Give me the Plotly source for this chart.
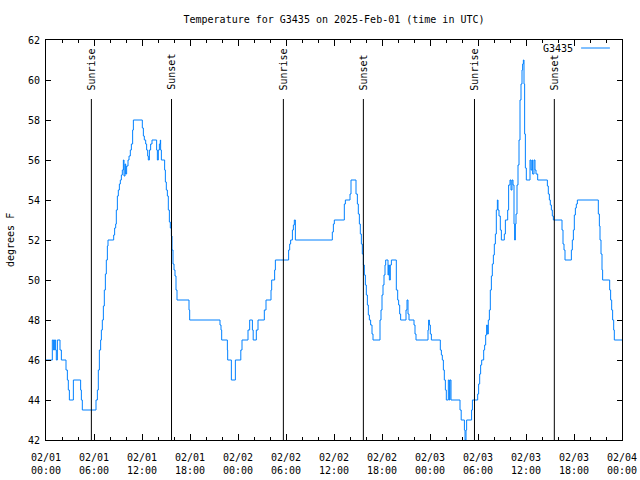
import pandas as pd
import plotly.graph_objects as go

# ---------------- data ----------------
start = "2025-02-01 00:00"
station = "G3435"
title_text = "Temperature for G3435 on 2025-Feb-01 (time in UTC)"
y_label = "degrees F"

# hours since start at which the reading changes, and the new reading (deg F)
hours = [
    0.0, 0.79, 0.95, 1.05, 1.2, 1.29, 1.42, 1.75, 1.92, 2.5, 2.67, 2.79, 2.92, 3.42,
    4.33, 4.42, 4.54,
    6.25, 6.42, 6.54, 6.67, 6.83, 6.92, 7.04, 7.17, 7.29, 7.42, 7.54, 7.67, 7.75,
    8.46, 8.58, 8.71, 8.79, 8.92, 9.04, 9.17, 9.29, 9.42, 9.54, 9.67, 9.75, 9.88,
    9.96, 10.08, 10.25, 10.38, 10.54, 10.67, 10.83, 10.92,
    12.04, 12.17, 12.29, 12.46, 12.58, 12.71, 12.79, 12.92, 13.08, 13.25, 13.83,
    13.92, 14.04, 14.17, 14.29, 14.33, 14.42, 14.83, 14.92, 15.04, 15.17, 15.29,
    15.42, 15.54, 15.67, 15.75, 15.875, 16.0, 16.125, 16.25, 16.375, 17.875, 17.96,
    21.75, 21.875, 21.96, 22.67, 22.71, 23.17, 23.67, 24.35, 24.5,
    25.25, 25.46, 25.8, 25.9, 26.29, 26.5, 27.29, 27.5, 28.125, 28.21, 28.58, 28.67,
    30.33, 30.46, 30.58, 30.8, 30.92, 31.04, 31.17,
    35.79, 35.92, 36.04, 37.29, 37.42, 38.0, 38.125, 38.75, 38.92, 39.04, 39.17,
    39.29, 39.42, 39.54, 39.67, 39.79, 39.92, 40.04, 40.17, 40.29, 40.42, 40.58,
    40.75, 40.875, 41.75, 41.875, 42.0, 42.125, 42.25, 42.375, 42.46, 42.75, 42.83,
    42.92, 43.04, 43.17, 43.79, 43.96, 44.08, 44.21, 44.33, 45.0, 45.125, 45.25,
    45.375, 46.0, 46.125, 46.25, 47.75, 47.83, 47.92, 48.04, 48.17,
    49.29, 49.42, 49.54, 49.67, 49.79, 49.92, 50.04, 50.29, 50.42, 50.5, 50.625,
    51.75, 51.9, 52.3, 52.38, 52.5, 52.58, 53.2, 53.3,
    53.96, 54.08, 54.21, 54.33, 54.46, 54.71, 54.83, 54.96, 55.08, 55.17, 55.29,
    55.42, 55.54, 55.67, 55.79, 55.92, 56.04, 56.17, 56.29, 56.42, 56.5, 56.625,
    56.79, 56.92, 57.29, 57.42, 57.71, 57.83, 58.0, 58.125, 58.25, 58.375, 58.5,
    58.58, 58.67, 58.75, 58.875, 59.0, 59.125, 59.25, 59.375, 59.5, 59.58, 59.67,
    59.75, 59.83, 59.92, 60.04, 60.5, 60.625, 60.75, 60.83, 61.0, 61.125, 61.25,
    61.46, 62.67, 62.79, 62.92, 63.04, 63.17, 63.29, 63.42, 64.5, 64.625, 64.75,
    64.875, 65.67, 65.79, 65.92, 66.04, 66.17, 66.29, 66.42, 69.04, 69.17, 69.25,
    69.375, 69.5, 69.58, 70.46, 70.58, 70.71, 70.83, 70.96, 71.04, 72.0,
]
temps = [
    46, 47, 46.5, 47, 46.5, 46, 47, 46.5, 46, 45.5, 45, 44.5, 44, 45,
    44.5, 44, 43.5,
    44, 44.5, 45.5, 46.5, 47, 47.5, 48, 48.7, 49.5, 50.3, 51, 51.7, 52,
    52.25, 52.6, 52.8, 53.5, 54.2, 54.5, 54.8, 55, 55.25, 55.5, 56, 55.2, 55.8,
    55.3, 55.7, 56, 56.2, 56.5, 56.8, 57.5, 58,
    57.6, 57.2, 57.0, 56.8, 56.5, 56.2, 56, 56.5, 56.8, 57, 56.5,
    56, 56.5, 56.8, 57, 56.5, 56, 55.5, 54.9, 54.5, 54.2, 53.5,
    52.9, 52.6, 52.2, 51.5, 50.8, 50.5, 50.2, 49.5, 49, 48.5, 48,
    47.75, 47.5, 47, 46.5, 46, 45, 46, 46.5, 47,
    47.5, 48, 47.5, 47, 47.5, 48, 48.5, 49, 49.5, 50, 50.5, 51,
    51.5, 51.8, 52, 52.5, 52.75, 53, 52,
    52.4, 52.8, 53, 53.8, 54, 54.3, 55, 54.3, 53.8, 53.3, 52.8,
    52.3, 51.8, 51.3, 50.75, 50.25, 49.75, 49.25, 48.75, 48.25, 48, 47.75,
    47.3, 47, 48, 48.5, 49.25, 49.75, 50.25, 50.75, 51, 50.25, 50.75,
    50, 50.75, 51, 49.5, 49, 48.75, 48.3, 48, 48.5, 49, 48.3,
    48, 47.75, 47.3, 47, 47.5, 48, 47.75, 47.3, 47,
    46.5, 46.25, 46, 45.5, 45, 44.5, 44, 45, 44, 45, 44,
    43.5, 43, 42.5, 42, 42.5, 43, 43.5, 44,
    44.3, 44.8, 45.3, 45.75, 46, 46.5, 46.75, 47.25, 47.75, 47.3, 48,
    48.5, 49.5, 50.2, 50.8, 51.25, 51.8, 52.3, 53.5, 54, 53.5, 53.2,
    52.5, 52, 52.3, 53, 53.5, 54.75, 55, 54.5, 55, 54.75, 52.8,
    52, 52.8, 53.3, 54.75, 55.75, 57, 59, 59.8, 60.5, 60.8, 61,
    59.8, 57.3, 55.6, 55, 56, 55.5, 56, 55.3, 56, 55.5, 55.3,
    55, 54.7, 54.3, 54, 53.75, 53.5, 53.2, 53, 52.5, 51.8, 51.5,
    51, 51.5, 52, 52.5, 53.25, 53.6, 53.8, 54, 53.3, 52.7, 52,
    51.3, 50.5, 50, 49.5, 49, 48.5, 48, 47.5, 47, 47,
]

sunrise_hours = [5.67, 29.67, 53.56]
sunset_hours = [15.69, 39.67, 63.54]
y_ticks = list(range(42, 63, 2))
total_hours = 72

# ---------------- figure ----------------
FONT = "DejaVu Sans Mono"
t0 = pd.Timestamp(start)
times = [t0 + pd.Timedelta(hours=h) for h in hours]

fig = go.Figure()
fig.add_trace(go.Scatter(
    x=times, y=temps, mode="lines", name=station,
    line=dict(color="#0080ff", width=1, shape="hv"),
    showlegend=False,
))

line_top = 0.8525
for label, hrs in (("Sunrise", sunrise_hours), ("Sunset", sunset_hours)):
    for h in hrs:
        t = t0 + pd.Timedelta(hours=h)
        fig.add_shape(type="line", xref="x", yref="paper", x0=t, x1=t,
                      y0=0, y1=line_top, line=dict(color="black", width=1))
        fig.add_annotation(x=t, y=line_top + 0.017, xref="x", yref="paper",
                           text=label, textangle=-90, showarrow=False,
                           xanchor="center", yanchor="bottom",
                           font=dict(family=FONT, size=10, color="black"))

# legend (text then line sample, gnuplot style)
fig.add_annotation(x=0.919, y=0.98, xref="paper", yref="paper", text=station,
                   showarrow=False, xanchor="right", yanchor="middle",
                   font=dict(family=FONT, size=10, color="black"))
fig.add_shape(type="line", xref="paper", yref="paper", x0=0.929, x1=0.979,
              y0=0.98, y1=0.98, line=dict(color="#0080ff", width=1))

# y-axis label
fig.add_annotation(x=-0.0625, y=0.5, xref="paper", yref="paper", text=y_label,
                   textangle=-90, showarrow=False, xanchor="center",
                   yanchor="middle",
                   font=dict(family=FONT, size=10, color="black"))

fig.update_layout(
    width=640, height=480,
    margin=dict(l=46, r=18, t=40, b=40, autoexpand=False),
    paper_bgcolor="white", plot_bgcolor="white",
    font=dict(family=FONT, size=10, color="black"),
    title=dict(text=title_text, x=0.5, xref="paper", y=1 - 19 / 480,
               yanchor="middle", xanchor="center",
               font=dict(family=FONT, size=10, color="black")),
    showlegend=False,
)
fig.update_xaxes(
    type="date", automargin=False,
    range=[t0, t0 + pd.Timedelta(hours=total_hours)],
    tick0=t0, dtick=6 * 3600 * 1000, tickformat="%m/%d<br>%H:%M",
    ticks="inside", ticklen=6, tickcolor="black", tickwidth=1,
    ticklabelstandoff=8,
    minor=dict(dtick=2 * 3600 * 1000, ticks="inside", ticklen=3,
               tickcolor="black", showgrid=False),
    showline=True, linecolor="black", linewidth=1, mirror="allticks",
    showgrid=False, zeroline=False,
    tickfont=dict(family=FONT, size=10, color="black"),
)
fig.update_yaxes(
    range=[42, 62], tickvals=y_ticks, automargin=False,
    ticks="inside", ticklen=5, tickcolor="black", tickwidth=1,
    ticklabelstandoff=3,
    showline=True, linecolor="black", linewidth=1, mirror="allticks",
    showgrid=False, zeroline=False,
    tickfont=dict(family=FONT, size=10, color="black"),
)

fig.write_html(
    "out.html",
    config={"displayModeBar": False},
    post_script="document.body.style.margin='0';document.body.style.padding='0';",
)
